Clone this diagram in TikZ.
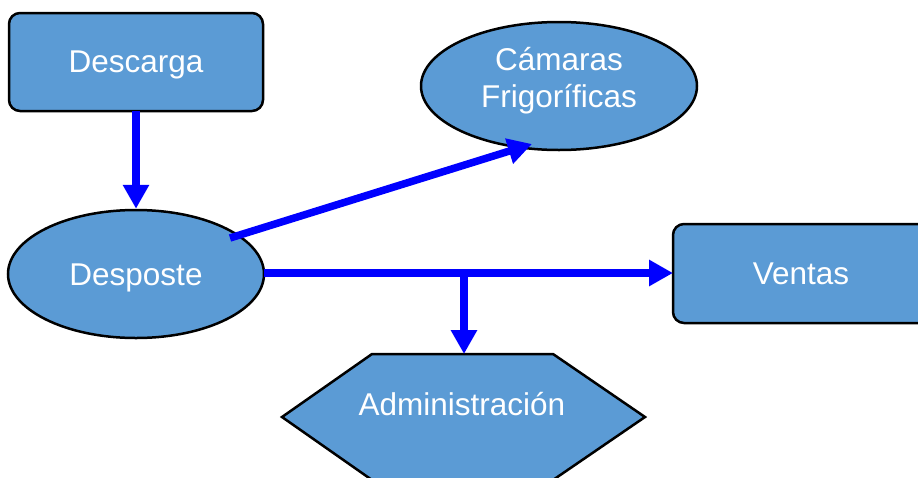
\documentclass[tikz,border=0pt]{standalone}
\usepackage{fontspec}
\setmainfont{Liberation Sans}
\usetikzlibrary{arrows.meta,shapes.geometric}
\definecolor{boxblue}{HTML}{5B9BD5}
\definecolor{arrblue}{HTML}{0000FF}
\begin{document}
\begin{tikzpicture}[x=1pt,y=-1pt,
  shapebox/.style={draw=black,line width=2.5pt,fill=boxblue},
  lbl/.style={text=white,font=\fontsize{31.5}{37}\selectfont,align=center},
  flow/.style={draw=arrblue,line width=7.5pt,-{Triangle[length=24pt,width=25pt]}},
  flowline/.style={draw=arrblue,line width=7.5pt}]
\useasboundingbox (0,0) rectangle (918,477);
\clip (0,0) rectangle (918,477);
% Descarga
\draw[shapebox,rounded corners=11pt] (9,13) rectangle (263,111);
\node[lbl] (descarga) at (136,65) {Descarga};
\coordinate (descB) at (136,111);
% Desposte
\node[shapebox,ellipse,minimum width=256pt,minimum height=128pt,inner sep=0pt] (desposte) at (136,274) {};
\node[lbl] at (136,278) {Desposte};
% Camaras
\node[shapebox,ellipse,minimum width=276pt,minimum height=128pt,inner sep=0pt] (camaras) at (559,86) {};
\node[lbl] at (559,81) {Cámaras\\Frigoríficas};
% Ventas
\draw[shapebox,rounded corners=11pt] (673,224) rectangle (930,323);
\node[lbl] (ventas) at (801,274) {Ventas};
\coordinate (ventasL) at (673,273);
% Administracion
\draw[shapebox] (372,354) -- (553,354) -- (645,417) -- (553,480) -- (372,480) -- (282,417) -- cycle;
\node[lbl] (admin) at (462,404) {Administración};
\coordinate (adminT) at (464,354);
% connectors
\coordinate (d1) at (230,238);
\coordinate (c1) at (532,144);
\coordinate (dR) at (264,273);
\coordinate (junc) at (464,273);
\draw[flow] (descB) -- (desposte.north);
\draw[flow] (d1) -- (c1);
\draw[flow] (dR) -- (ventasL);
\draw[flow] (junc) -- (adminT);
\end{tikzpicture}
\end{document}
